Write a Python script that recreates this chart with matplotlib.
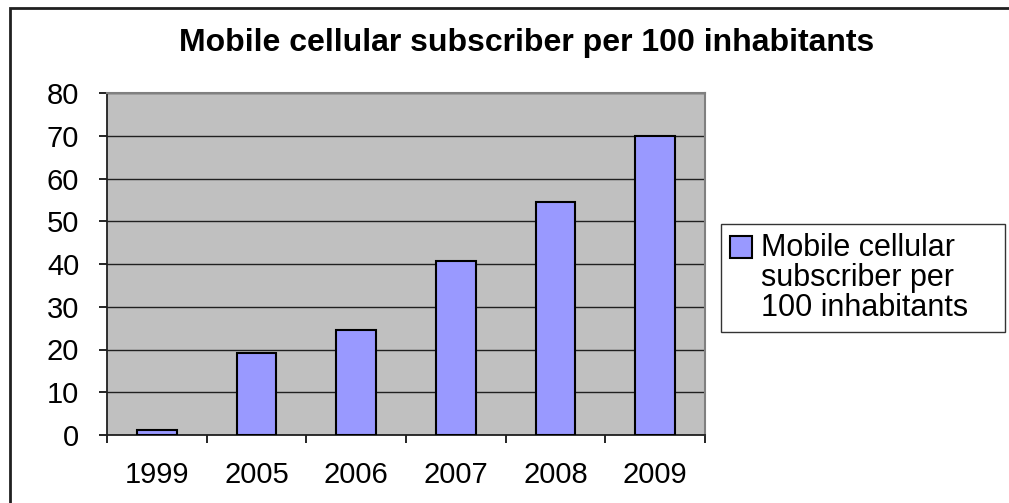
import matplotlib.pyplot as plt
from matplotlib.patches import Rectangle
from matplotlib.legend_handler import HandlerPatch
import numpy as np

years = ['1999', '2005', '2006', '2007', '2008', '2009']
subscribers = [1.2, 19.1, 24.5, 40.6, 54.4, 69.9]
series_name = 'Mobile cellular\nsubscriber per\n100 inhabitants'
title = 'Mobile cellular subscriber per 100 inhabitants'

plt.rcParams['font.family'] = ['Liberation Sans', 'DejaVu Sans']

W, H = 1009, 503
fig = plt.figure(figsize=(W / 100, H / 100), dpi=100)

# plot area in pixels: left 107, right 705, top 93, bottom 435
ax = fig.add_axes([107 / W, (H - 435) / H, 598 / W, 342 / H])
ax.set_facecolor('#C0C0C0')

x = np.arange(len(years))
bars = ax.bar(x, subscribers, width=0.4, color='#9999FF', edgecolor='black',
              linewidth=1.5, zorder=3, label=series_name)

ax.set_xlim(-0.5, len(years) - 0.5)
ax.set_ylim(0, 80)
ax.set_yticks(range(0, 81, 10))
ax.yaxis.grid(True, color='#202020', linewidth=1.0, zorder=1)

ax.set_xticks(x)
ax.set_xticklabels(years)
ax.set_xticks(np.arange(-0.5, len(years)), minor=True)
ax.tick_params(axis='x', which='major', length=0, pad=19, labelsize=21)
ax.tick_params(axis='x', which='minor', length=6, width=1.2, direction='out')
ax.tick_params(axis='y', length=6, width=1.2, pad=14, labelsize=21)

for side in ['left', 'bottom']:
    ax.spines[side].set_color('#202020')
    ax.spines[side].set_linewidth(1.3)
for side in ['top', 'right']:
    ax.spines[side].set_color('#808080')
    ax.spines[side].set_linewidth(1.5)

fig.text(527 / W, 1 - 43 / H, title, ha='center', va='center',
         fontsize=23, fontweight='bold')


# put the legend square next to the first text line
def top_square(legend, orig_handle, xdescent, ydescent, width, height, fontsize):
    return Rectangle((-xdescent, -ydescent + 1.05 * fontsize), width, height)


leg = fig.legend(handles=[bars.patches[0]], labels=[series_name],
                 loc='upper left',
                 bbox_to_anchor=(721 / W, 1 - 330 / H, 284 / W, 106 / H),
                 mode='expand', frameon=True, fancybox=False, fontsize=22,
                 handlelength=0.7, handleheight=0.7, handletextpad=0.3,
                 borderpad=0.3, borderaxespad=0,
                 handler_map={Rectangle: HandlerPatch(patch_func=top_square)})
leg.get_frame().set_edgecolor('black')
leg.get_frame().set_linewidth(1.0)
leg.get_frame().set_facecolor('white')
for t in leg.get_texts():
    t.set_linespacing(1.0)

fig.patches.append(Rectangle((10 / W, -0.05), 1.1, 1 - 8 / H + 0.05,
                             transform=fig.transFigure, fill=False,
                             edgecolor='#202020', linewidth=2.0))

fig.savefig('out.png', dpi=100)
